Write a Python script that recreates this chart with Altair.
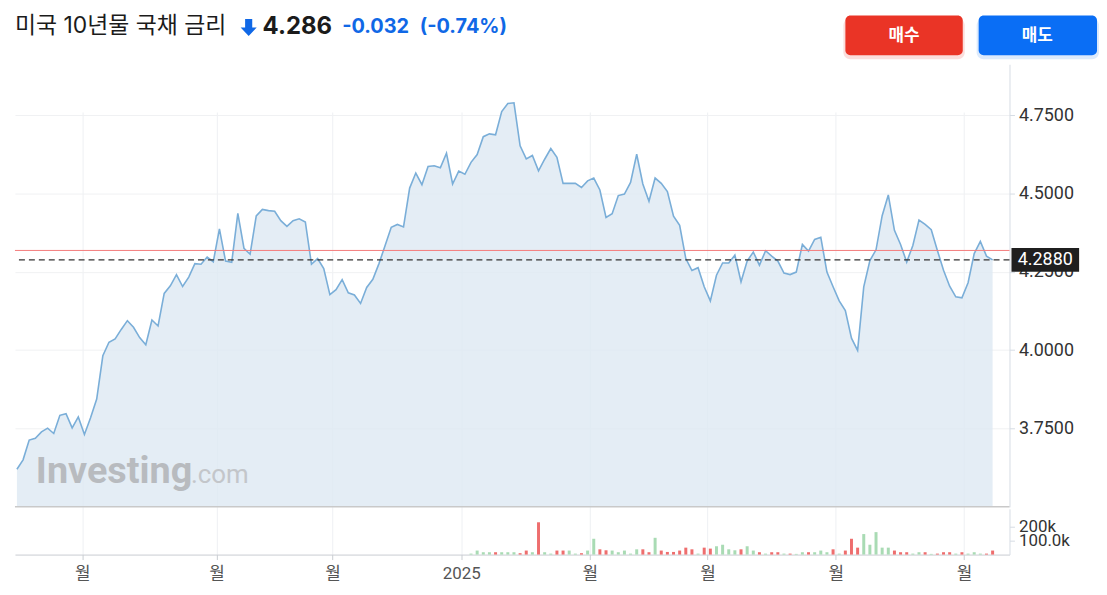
import altair as alt
import pandas as pd

# ---------------- data ----------------
TITLE = "미국 10년물 국채 금리"
LAST = "4.286"
CHANGE = "-0.032"
CHANGE_PCT = "(-0.74%)"
CURRENT = 4.288
PREV_CLOSE = 4.318
CURRENT_LABEL = "4.2880"
BUY = "매수"
SELL = "매도"

prices = [
    3.620, 3.650, 3.713, 3.719, 3.739, 3.751, 3.734, 3.792, 3.797, 3.752,
    3.787, 3.731, 3.784, 3.844, 3.982, 4.025, 4.036, 4.066, 4.094, 4.073,
    4.040, 4.017, 4.096, 4.077, 4.181, 4.205, 4.241, 4.203, 4.233, 4.276,
    4.274, 4.297, 4.282, 4.387, 4.284, 4.280, 4.436, 4.325, 4.306, 4.428,
    4.449, 4.445, 4.443, 4.413, 4.395, 4.413, 4.419, 4.409, 4.274, 4.292,
    4.260, 4.177, 4.193, 4.225, 4.183, 4.176, 4.149, 4.200, 4.226, 4.276,
    4.334, 4.392, 4.401, 4.393, 4.517, 4.565, 4.528, 4.586, 4.588, 4.582,
    4.628, 4.530, 4.571, 4.561, 4.599, 4.624, 4.681, 4.690, 4.687, 4.761,
    4.787, 4.789, 4.652, 4.610, 4.621, 4.572, 4.609, 4.643, 4.615, 4.532,
    4.532, 4.532, 4.519, 4.540, 4.549, 4.511, 4.423, 4.435, 4.493, 4.498,
    4.535, 4.625, 4.530, 4.475, 4.549, 4.532, 4.506, 4.427, 4.398, 4.292,
    4.254, 4.263, 4.202, 4.157, 4.239, 4.278, 4.278, 4.303, 4.218, 4.284,
    4.313, 4.271, 4.317, 4.300, 4.284, 4.246, 4.241, 4.249, 4.337, 4.316,
    4.353, 4.360, 4.249, 4.202, 4.157, 4.126, 4.038, 3.999, 4.202, 4.286,
    4.320, 4.429, 4.495, 4.382, 4.337, 4.281, 4.334, 4.415, 4.401, 4.384,
    4.318, 4.255, 4.204, 4.170, 4.167, 4.215, 4.308, 4.347, 4.300, 4.288,
]

volume_start = 74
volumes_k = [
    7, 29, 17, 17, 17, 17, 17, 17, 10, 29,
    17, 233, 17, 7, 29, 29, 29, 7, 10, 29,
    114, 38, 31, 29, 17, 29, 7, 38, 38, 17,
    121, 29, 19, 19, 29, 50, 38, 7, 50, 43,
    60, 71, 38, 31, 38, 60, 29, 17, 7, 17,
    17, 7, 7, 5, 17, 17, 17, 29, 17, 38,
    7, 29, 114, 50, 148, 71, 162, 50, 50, 29,
    17, 17, 7, 17, 17, 5, 7, 17, 17, 7,
    17, 7, 17, 7, 7, 29,
]
vol_dirs = list(
    "ggggrgggrr" "grggrrggrg" "grrgggggrr" "grrrrrrgrr" "ggggrggrgr"
    "rgrggrgggr" "grrrgggggr" "rrggrgrrrg" "rgggrr"
)

x_tick_pos = [10.65, 32.53, 51.43, 72.4, 93.35, 112.53, 133.44, 154.34]
x_tick_labels = ["월", "월", "월", "2025", "월", "월", "월", "월"]
y_ticks = [3.75, 4.0, 4.25, 4.5, 4.75]
vol_ticks = [100000, 200000]
vol_tick_labels = ["100.0k", "200k"]

# ---------------- tables ----------------
price_df = pd.DataFrame({"idx": list(range(len(prices))), "price": prices})
vol_df = pd.DataFrame({
    "idx": [volume_start + i for i in range(len(volumes_k))],
    "vol": [v * 1000 for v in volumes_k],
    "dir": ["up" if d == "g" else "down" for d in vol_dirs],
})
one = pd.DataFrame({"a": [0]})

W, H = 1000, 493
PRICE_H = 445
FONT = "Roboto, 'Noto Sans CJK KR', sans-serif"
HFONT = "Inter, 'Noto Sans CJK KR', sans-serif"

x_label_expr = "[{}][indexof([{}], datum.value)]".format(
    ",".join("'%s'" % l for l in x_tick_labels),
    ",".join(str(p) for p in x_tick_pos),
)
vol_label_expr = "[{}][indexof([{}], datum.value)]".format(
    ",".join("'%s'" % l for l in vol_tick_labels),
    ",".join(str(p) for p in vol_ticks),
)

xscale = alt.Scale(domain=[-0.32, 161.75], nice=False, zero=False, padding=0)
xaxis = alt.Axis(
    values=x_tick_pos, labelExpr=x_label_expr, title=None, grid=True,
    gridColor="#eef0f3", domainColor="#c9cdd2", tickColor="#c9cdd2",
    tickSize=5, labelFontSize=17, labelColor="#555555", labelPadding=6,
    labelFont=FONT, labelOverlap=False,
)
X = alt.X("idx:Q", scale=xscale, axis=xaxis)

pscale = alt.Scale(domain=[3.5, 4.912], range=[PRICE_H, 0], nice=False, zero=False)
paxis = alt.Axis(
    orient="right", values=y_ticks, format=".4f", title=None, grid=True,
    gridColor="#f0f1f3", domainColor="#d6dce4", tickColor="#d6dce4",
    tickSize=5, labelFontSize=18, labelColor="#333333", labelPadding=4,
    labelFont=FONT, labelOverlap=False,
)
Yp = alt.Y("price:Q", scale=pscale, axis=paxis)

area = alt.Chart(price_df).mark_area(color="#dde8f2", opacity=0.8).encode(
    x=X, y=Yp, y2=alt.datum(3.5)
)
line = alt.Chart(price_df).mark_line(color="#7aaed8", strokeWidth=1.6).encode(x=X, y=Yp)

sep = alt.Chart(one).mark_rule(color="#c9c9c9", strokeWidth=1.5).encode(y=alt.datum(3.5))
red_rule = alt.Chart(one).mark_rule(color="#f47c7c", strokeWidth=1).encode(y=alt.datum(PREV_CLOSE))
cur_rule = alt.Chart(one).mark_rule(color="#333333", strokeWidth=1.3, strokeDash=[6, 4]).encode(
    y=alt.datum(CURRENT)
)
box = alt.Chart(one).mark_rect(color="#1f1f1f").encode(
    x=alt.value(W + 2), x2=alt.value(W + 70),
    y=alt.datum(CURRENT + 0.038), y2=alt.datum(CURRENT - 0.038),
)
box_text = alt.Chart(one).mark_text(
    color="white", fontSize=18, font=FONT, align="center", baseline="middle"
).encode(x=alt.value(W + 36), y=alt.datum(CURRENT), text=alt.value(CURRENT_LABEL))

wm1 = alt.Chart(one).mark_text(
    text="Investing", font="Roboto", fontSize=38, fontWeight="bold", color="#b8bbbf",
    align="left", baseline="alphabetic", x=21, y=421,
)
wm2 = alt.Chart(one).mark_text(
    text=".com", font="Roboto", fontSize=26, color="#c3c6ca",
    align="left", baseline="alphabetic", x=177, y=421,
)

price_layer = alt.layer(area, line, sep, red_rule, cur_rule, wm1, wm2, box, box_text)

vscale = alt.Scale(domain=[0, 330000], range=[H, H - 46], nice=False)
vaxis = alt.Axis(
    orient="right", values=vol_ticks, labelExpr=vol_label_expr, title=None, grid=False,
    domainColor="#d6dce4", tickColor="#d6dce4", tickSize=5, labelFontSize=17,
    labelColor="#333333", labelPadding=4, labelFont=FONT, labelOverlap=False,
)
bars = alt.Chart(vol_df).mark_bar(size=3).encode(
    x=X,
    y=alt.Y("vol:Q", scale=vscale, axis=vaxis),
    color=alt.Color("dir:N", scale=alt.Scale(domain=["down", "up"], range=["#ee6e6e", "#a9dbb4"]), legend=None),
)

# ---------------- header ----------------
BLUE = "#1068e6"
title = alt.Chart(one).mark_text(
    text=TITLE, font=HFONT, fontSize=23, color="#1b1b1b", align="left", baseline="middle", x=0, y=-38
)
arrow = alt.Chart(one).mark_point(
    shape="M-0.42,-1L0.42,-1L0.42,0.0L0.95,0.0L0,1L-0.95,0.0L-0.42,0.0Z",
    filled=True, size=290, color=BLUE, opacity=1, x=235, y=-37,
)
last = alt.Chart(one).mark_text(
    text=LAST, font=HFONT, fontSize=24, fontWeight="bold", color="#1b1b1b",
    align="left", baseline="middle", x=249, y=-37,
)
chg = alt.Chart(one).mark_text(
    text=CHANGE, font=HFONT, fontSize=20, fontWeight="bold", color=BLUE,
    align="left", baseline="middle", x=329, y=-37,
)
chgp = alt.Chart(one).mark_text(
    text=CHANGE_PCT, font=HFONT, fontSize=20, fontWeight="bold", color=BLUE,
    align="left", baseline="middle", x=407, y=-37,
)
buy_glow = alt.Chart(one).mark_rect(color="#f3a19c", opacity=0.35, cornerRadius=7).encode(
    x=alt.value(833), x2=alt.value(955), y=alt.value(-46), y2=alt.value(-5)
)
sell_glow = alt.Chart(one).mark_rect(color="#9cc4f7", opacity=0.35, cornerRadius=7).encode(
    x=alt.value(967), x2=alt.value(1090), y=alt.value(-46), y2=alt.value(-5)
)
buy_btn = alt.Chart(one).mark_rect(color="#ea3426", cornerRadius=5).encode(
    x=alt.value(835), x2=alt.value(953), y=alt.value(-49), y2=alt.value(-9)
)
sell_btn = alt.Chart(one).mark_rect(color="#0a6ef5", cornerRadius=5).encode(
    x=alt.value(969), x2=alt.value(1088), y=alt.value(-49), y2=alt.value(-9)
)
buy_txt = alt.Chart(one).mark_text(
    text=BUY, font=HFONT, fontSize=17, fontWeight="bold", color="white",
    align="center", baseline="middle", x=894, y=-28,
)
sell_txt = alt.Chart(one).mark_text(
    text=SELL, font=HFONT, fontSize=17, fontWeight="bold", color="white",
    align="center", baseline="middle", x=1028, y=-28,
)
header = alt.layer(title, arrow, last, chg, chgp, buy_glow, sell_glow, buy_btn, sell_btn, buy_txt, sell_txt)

chart = (
    alt.layer(price_layer, bars, header)
    .resolve_scale(y="independent")
    .properties(width=W, height=H, padding={"left": 5, "top": 6, "right": 0, "bottom": 0})
    .configure_view(stroke=None)
)

chart.save("out.html", embed_options={"renderer": "svg", "actions": False})
